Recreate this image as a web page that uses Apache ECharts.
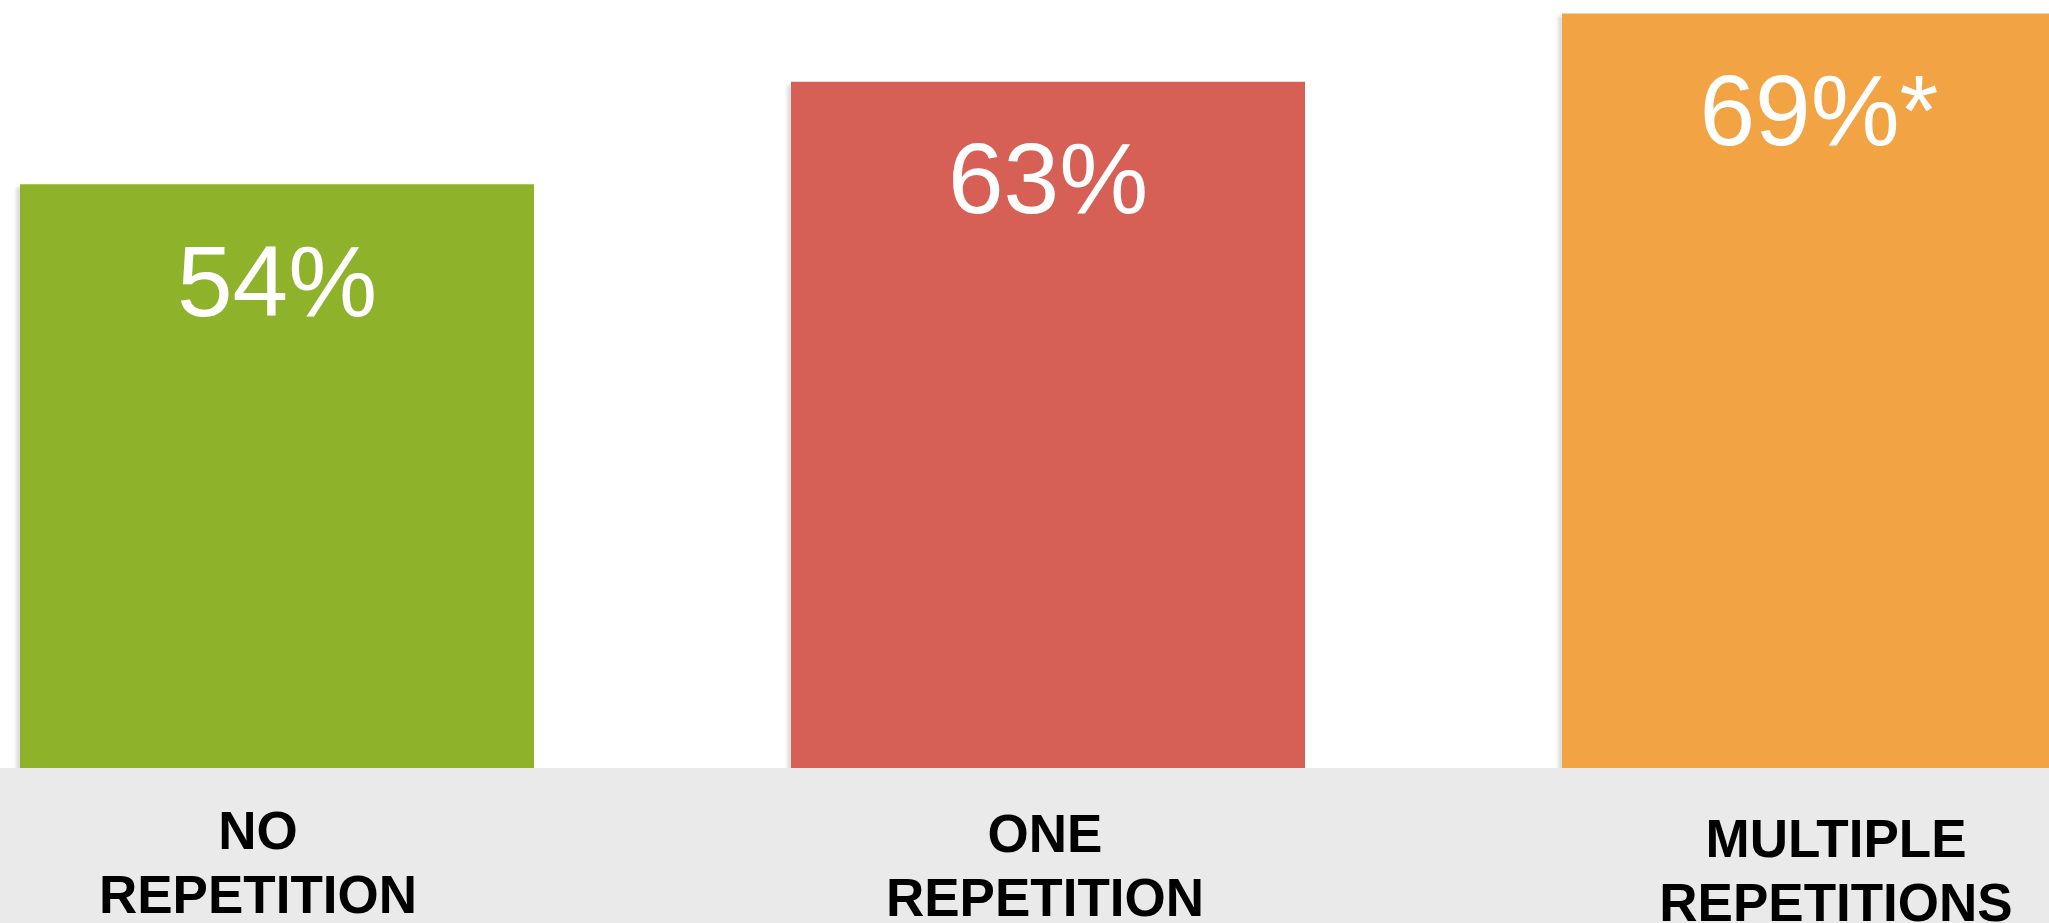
<!DOCTYPE html>
<html>
<head>
<meta charset="utf-8">
<script src="https://cdn.jsdelivr.net/npm/echarts@6/dist/echarts.min.js"></script>
<style>
  html, body { margin: 0; padding: 0; background: #ffffff; }
  #chart { width: 2049px; height: 923px; }
</style>
</head>
<body>
<div id="chart"></div>
<script>
// Share of recall by number of repetitions
const categories = ['NO\nREPETITION', 'ONE\nREPETITION', 'MULTIPLE\nREPETITIONS'];
const values = [54, 63, 69];
const notes = ['', '', '*'];
const barColors = ['#8EB32A', '#D66055', '#F2A444'];

const chart = echarts.init(document.getElementById('chart'), null, { renderer: 'canvas' });

// small per-label nudges so the footer captions sit where the layout puts them
const captionPadding = [[0, 38, 0, 0], [3, 6, 0, 0], [8, 0, 0, 34]];

const option = {
  backgroundColor: '#ffffff',
  animation: false,
  graphic: [
    {
      // grey footer strip holding the category names
      type: 'rect',
      z: 3,
      shape: { x: 0, y: 768, width: 2049, height: 155 },
      style: { fill: '#EAEAEA' }
    }
  ],
  grid: {
    left: -108.5,
    width: 2313,
    top: 2,
    bottom: 124,
    containLabel: false,
    outerBoundsMode: 'none'
  },
  xAxis: {
    type: 'category',
    z: 6,
    data: categories.map((c, i) => ({
      value: c,
      textStyle: { padding: captionPadding[i] }
    })),
    boundaryGap: true,
    axisLine: { show: false },
    axisTick: { show: false },
    axisLabel: {
      interval: 0,
      margin: 3,
      color: '#000000',
      fontFamily: 'Liberation Sans, Arial, sans-serif',
      fontWeight: 'bold',
      fontSize: 53,
      lineHeight: 64
    }
  },
  yAxis: {
    type: 'value',
    min: 0,
    max: 70,
    show: false,
    splitLine: { show: false }
  },
  series: [
    {
      type: 'bar',
      barWidth: 514,
      data: values.map((v, i) => ({
        value: v,
        itemStyle: { color: barColors[i] }
      })),
      itemStyle: {
        shadowColor: 'rgba(0,0,0,0.13)',
        shadowBlur: 3,
        shadowOffsetX: -4,
        shadowOffsetY: 3
      },
      label: {
        show: true,
        position: 'insideTop',
        distance: 54,
        color: '#ffffff',
        fontFamily: 'Liberation Sans, Arial, sans-serif',
        fontSize: 100,
        formatter: p => p.value + '%' + notes[p.dataIndex]
      }
    }
  ]
};

chart.setOption(option);
</script>
</body>
</html>
